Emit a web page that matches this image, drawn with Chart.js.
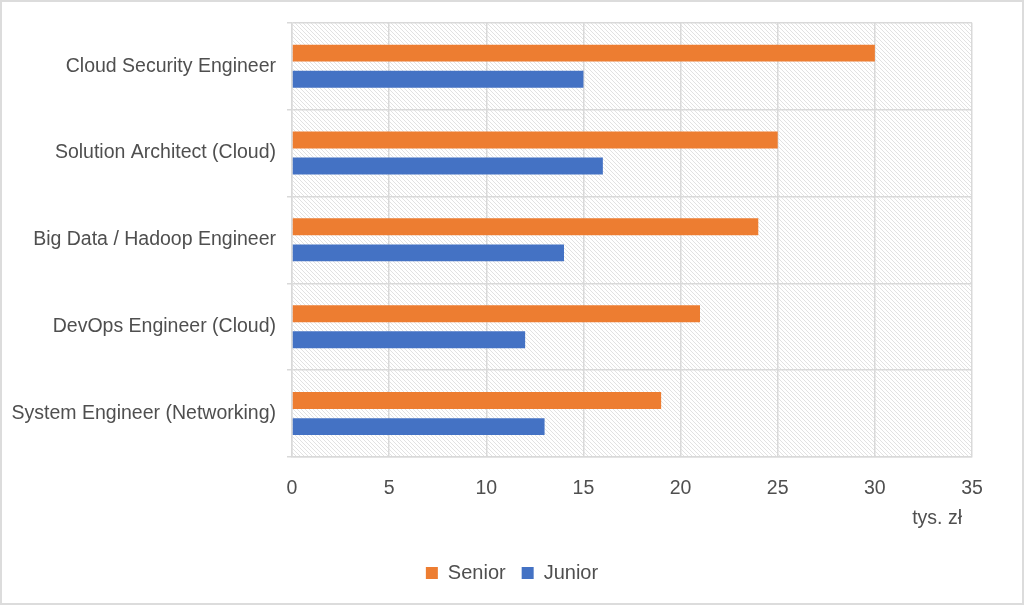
<!DOCTYPE html>
<html>
<head>
<meta charset="utf-8">
<script src="https://cdn.jsdelivr.net/npm/chart.js@4"></script>
<style>
  html, body { margin: 0; padding: 0; background: #fff; }
  #wrap { width: 1024px; height: 605px; position: relative; }
</style>
</head>
<body>
<div id="wrap"><canvas id="salaryChart"></canvas></div>
<script>
const categories = [
  'Cloud Security Engineer',
  'Solution Architect (Cloud)',
  'Big Data / Hadoop Engineer',
  'DevOps Engineer (Cloud)',
  'System Engineer (Networking)'
];
const seniorValues = [30, 25, 24, 21, 19];
const juniorValues = [15, 16, 14, 12, 13];
const xTicks = [0, 5, 10, 15, 20, 25, 30, 35];
const unitLabel = 'tys. zł';

const textColor = '#4f4f4f';
const gridColor = '#d9d9d9';
const fontFamily = 'Liberation Sans, Arial, sans-serif';

// hatched plot background + thin frame around the picture
const hatchBg = {
  id: 'hatchBg',
  beforeDraw(chart) {
    const { ctx, chartArea: a } = chart;
    const p = document.createElement('canvas');
    p.width = 4; p.height = 4;
    const pc = p.getContext('2d');
    pc.fillStyle = '#fff';
    pc.fillRect(0, 0, 4, 4);
    pc.strokeStyle = '#e2e2e2';
    pc.lineWidth = 1;
    pc.beginPath();
    pc.moveTo(0, 0); pc.lineTo(4, 4);
    pc.moveTo(-2, 2); pc.lineTo(2, 6);
    pc.moveTo(2, -2); pc.lineTo(6, 2);
    pc.stroke();
    ctx.save();
    ctx.fillStyle = '#fff';
    ctx.fillRect(0, 0, chart.width, chart.height);
    ctx.fillStyle = ctx.createPattern(p, 'repeat');
    ctx.fillRect(a.left, a.top, a.right - a.left, a.bottom - a.top);
    ctx.strokeStyle = '#dcdcdc';
    ctx.lineWidth = 2;
    ctx.strokeRect(1, 1, chart.width - 2, chart.height - 2);
    ctx.restore();
  },
  // unit label sits under the axis, slightly left of the right edge
  afterDraw(chart) {
    const { ctx, chartArea: a } = chart;
    ctx.save();
    ctx.fillStyle = textColor;
    ctx.font = '19.5px ' + fontFamily;
    ctx.textAlign = 'right';
    ctx.textBaseline = 'middle';
    ctx.fillText(unitLabel, a.right - 10, a.bottom + 62);
    ctx.restore();
  }
};

const ctx = document.getElementById('salaryChart').getContext('2d');
new Chart(ctx, {
  type: 'bar',
  data: {
    labels: categories,
    datasets: [
      { label: 'Senior', data: seniorValues, backgroundColor: '#ED7D31' },
      { label: 'Junior', data: juniorValues, backgroundColor: '#4472C4' }
    ]
  },
  plugins: [hatchBg],
  options: {
    indexAxis: 'y',
    responsive: true,
    maintainAspectRatio: false,
    animation: false,
    categoryPercentage: 0.6,
    barPercentage: 0.65,
    layout: { padding: { left: 0, right: 0, top: 22, bottom: 12 } },
    scales: {
      x: {
        min: 0,
        max: 35,
        afterBuildTicks(scale) { scale.ticks = xTicks.map(v => ({ value: v })); },
        afterFit(scale) { scale.height = 90; },
        grid: { color: gridColor, lineWidth: 1.5, drawTicks: false },
        border: { color: gridColor, width: 1.5 },
        ticks: { color: textColor, font: { family: fontFamily, size: 19.5 }, padding: 20 }
      },
      y: {
        afterFit(scale) { scale.width = 292; },
        grid: { color: gridColor, lineWidth: 1.5, tickLength: 5 },
        border: { color: gridColor, width: 1.5 },
        ticks: { color: textColor, font: { family: fontFamily, size: 19.5 }, padding: 11 }
      },
      // empty right-hand spacer so the legend centres on the whole picture
      yRight: {
        type: 'category',
        labels: categories,
        position: 'right',
        afterFit(scale) { scale.width = 52; },
        grid: { display: false },
        border: { display: false },
        ticks: { display: false }
      }
    },
    plugins: {
      legend: {
        position: 'bottom',
        labels: {
          color: textColor, boxWidth: 12, boxHeight: 12, padding: 16,
          font: { family: fontFamily, size: 20 }
        }
      },
      tooltip: { enabled: false }
    }
  }
});
</script>
</body>
</html>
